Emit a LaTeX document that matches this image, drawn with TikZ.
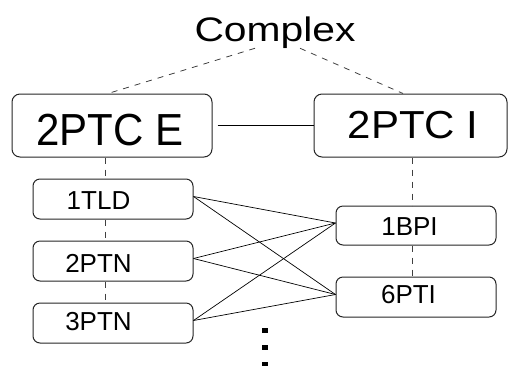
\documentclass[tikz,border=0pt]{standalone}
\usepackage{fontspec}
\setmainfont{Liberation Sans}
\begin{document}
\begin{tikzpicture}[x=1pt,y=-1pt,
  bigbox/.style={draw=black!85, line width=1pt, rounded corners=8pt, fill=white, inner sep=0pt, minimum height=63pt},
  smallbox/.style={draw=black!85, line width=1pt, rounded corners=7pt, fill=white, inner sep=0pt, minimum width=160pt, minimum height=40pt},
  lbl/.style={inner sep=0pt, font=\fontsize{26}{30}\selectfont},
  biglbl/.style={inner sep=0pt, anchor=base, font=\fontsize{42}{48}\selectfont},
  link/.style={line width=0.8pt, black},
  dashline/.style={line width=0.8pt, dash pattern=on 6pt off 6pt, black!75},
  dotsq/.style={fill=black, minimum size=5.5pt, inner sep=0pt}
]
\useasboundingbox (0,0) rectangle (508,365);
\coordinate (lx) at (105,0);
\coordinate (rx) at (412,0);

% boxes
\node[bigbox, minimum width=200pt] (E) at (112,125.5) {};
\node[bigbox, minimum width=193pt] (I) at (410.5,125.5) {};
\node[smallbox] (tld) at (113,199) {};
\node[smallbox] (ptn2) at (113,261) {};
\node[smallbox] (ptn3) at (113,323) {};
\node[smallbox, minimum height=39pt] (bpi) at (416,225.5) {};
\node[smallbox] (pti) at (416,297) {};

% labels
\node[inner sep=0pt, anchor=base] (cx) at (275,41) {\scalebox{1.2}[1]{\fontsize{34}{40}\selectfont Complex}};
\node[biglbl] (Et) at (110,145) {\scalebox{1}[1.07]{2PTC E}};
\node[biglbl] (It) at (413,138) {\scalebox{1}[0.93]{2PTC I}};
\node[lbl] (tldt) at (98.5,200.5) {1TLD};
\node[lbl] (ptn2t) at (98.5,263) {2PTN};
\node[lbl] (ptn3t) at (98.5,322) {3PTN};
\node[lbl] (bpit) at (409.5,227) {1BPI};
\node[lbl] (ptit) at (408.5,295) {6PTI};

% dashed structure
\draw[dashline] ([xshift=-20pt]cx.south) -- (E.north -| 108,0);
\draw[dashline] ([xshift=25pt]cx.south) -- (I.north -| 403,0);
\draw[dashline] (E.south -| lx) -- (tld.north -| lx);
\draw[dashline] (tld.south -| lx) -- (ptn2.north -| lx);
\draw[dashline] (ptn2.south -| lx) -- (ptn3.north -| lx);
\draw[dashline] (I.south -| rx) -- (bpi.north -| rx);
\draw[dashline] (bpi.south -| rx) -- (pti.north -| rx);

% solid links
\draw[link] ([xshift=5pt]E.east) -- (I.west);
\foreach \a in {tld,ptn2,ptn3}{
  \foreach \b in {bpi,pti}{
    \draw[link, line width=0.7pt] ([yshift=2.5pt]\a.east) -- ([yshift=2.5pt]\b.west);
  }
}

% vertical ellipsis
\node[dotsq] (d1) at (265,330.5) {};
\node[dotsq] (d2) at (265,347.5) {};
\node[dotsq] (d3) at (265,364.5) {};
\end{tikzpicture}
\end{document}
